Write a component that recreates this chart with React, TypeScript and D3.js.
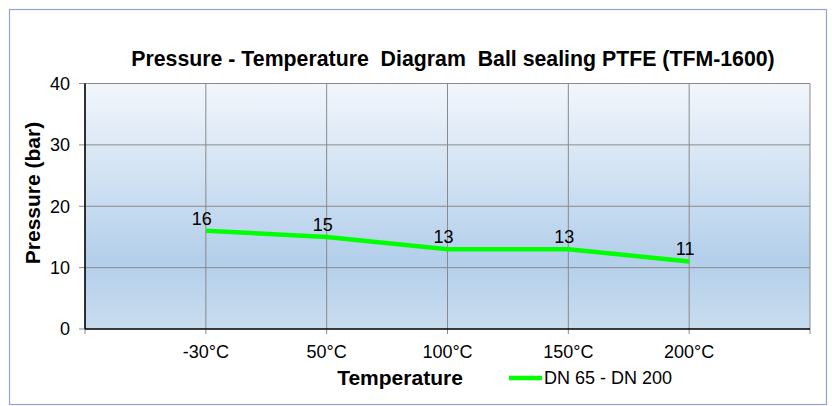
import React, { useRef, useEffect } from 'react';
import * as d3 from 'd3';

const temperatures: string[] = ['-30°C', '50°C', '100°C', '150°C', '200°C'];
const pressures: number[] = [16, 15, 13, 13, 11];
const yTicks: number[] = [0, 10, 20, 30, 40];
const seriesName = 'DN 65 - DN 200';

const App: React.FC = () => {
  const svgRef = useRef<SVGSVGElement | null>(null);

  useEffect(() => {
    document.body.style.margin = '0';
    if (!svgRef.current) return;

    const width = 832;
    const height = 406;
    const margin = { top: 83.5, right: 22, bottom: 77, left: 85 };
    const font = '"Liberation Sans", Arial, sans-serif';

    const svg = d3.select(svgRef.current)
      .attr('width', width)
      .attr('height', height);
    svg.selectAll('*').remove();

    // 바깥 테두리
    svg.append('rect')
      .attr('x', 9.5).attr('y', 9.5)
      .attr('width', 817).attr('height', 395)
      .attr('fill', '#fff')
      .attr('stroke', '#95a3cf')
      .attr('stroke-width', 1.2);

    const x = d3.scalePoint<string>()
      .domain(temperatures)
      .range([margin.left, width - margin.right])
      .padding(1);

    const y = d3.scaleLinear()
      .domain([0, 40])
      .range([height - margin.bottom, margin.top]);

    // 배경 그라데이션
    const defs = svg.append('defs');
    const grad = defs.append('linearGradient')
      .attr('id', 'plotBg')
      .attr('x1', 0).attr('y1', 0).attr('x2', 0).attr('y2', 1);
    grad.append('stop').attr('offset', '0%').attr('stop-color', '#f2f6fc');
    grad.append('stop').attr('offset', '72%').attr('stop-color', '#b3cfea');
    grad.append('stop').attr('offset', '100%').attr('stop-color', '#c9dcef');

    const x0 = margin.left;
    const x1 = width - margin.right;
    const y0 = y(0);
    const y1 = y(40);

    svg.append('rect')
      .attr('x', x0).attr('y', y1)
      .attr('width', x1 - x0).attr('height', y0 - y1)
      .attr('fill', 'url(#plotBg)');

    // 세로 격자선 (아래로 눈금까지)
    const vLines = [x0, ...temperatures.map(t => x(t) as number), x1];
    svg.append('g')
      .selectAll('line')
      .data(vLines)
      .join('line')
      .attr('x1', d => d).attr('x2', d => d)
      .attr('y1', y1).attr('y2', y0 + 5)
      .attr('stroke', '#8a8a8a')
      .attr('stroke-width', 1);

    // 가로 격자선
    svg.append('g')
      .selectAll('line')
      .data(yTicks.filter(t => t > 0))
      .join('line')
      .attr('x1', x0 - 6).attr('x2', x1)
      .attr('y1', d => y(d)).attr('y2', d => y(d))
      .attr('stroke', '#8a8a8a')
      .attr('stroke-width', 1);

    svg.append('line')
      .attr('x1', x0 - 6).attr('x2', x0)
      .attr('y1', y0).attr('y2', y0)
      .attr('stroke', '#8a8a8a');

    // 축선
    svg.append('line')
      .attr('x1', x0).attr('x2', x0)
      .attr('y1', y1).attr('y2', y0)
      .attr('stroke', '#000').attr('stroke-width', 1.5);
    svg.append('line')
      .attr('x1', x0).attr('x2', x1)
      .attr('y1', y0).attr('y2', y0)
      .attr('stroke', '#000').attr('stroke-width', 1.5);

    // y 눈금 라벨
    svg.append('g')
      .selectAll('text')
      .data(yTicks)
      .join('text')
      .attr('x', 70)
      .attr('y', d => y(d))
      .attr('dy', '0.35em')
      .attr('text-anchor', 'end')
      .attr('font-family', font)
      .attr('font-size', 18)
      .text(d => String(d));

    // x 눈금 라벨
    svg.append('g')
      .selectAll('text')
      .data(temperatures)
      .join('text')
      .attr('x', d => x(d) as number)
      .attr('y', 358)
      .attr('text-anchor', 'middle')
      .attr('font-family', font)
      .attr('font-size', 18)
      .text(d => d);

    // 데이터 선
    const line = d3.line<number>()
      .x((_, i) => x(temperatures[i]) as number)
      .y(d => y(d));

    svg.append('path')
      .datum(pressures)
      .attr('fill', 'none')
      .attr('stroke', '#00ff00')
      .attr('stroke-width', 4.5)
      .attr('d', line);

    // 데이터 라벨
    svg.append('g')
      .selectAll('text')
      .data(pressures)
      .join('text')
      .attr('x', (_, i) => (x(temperatures[i]) as number) - 4)
      .attr('y', d => y(d) - 6)
      .attr('text-anchor', 'middle')
      .attr('font-family', font)
      .attr('font-size', 18)
      .text(d => String(d));

    // 제목
    svg.append('text')
      .attr('x', 453).attr('y', 66)
      .attr('text-anchor', 'middle')
      .attr('font-family', font)
      .attr('font-weight', 'bold')
      .attr('font-size', 21.3)
      .attr('xml:space', 'preserve')
      .style('white-space', 'pre')
      .text('Pressure - Temperature  Diagram  Ball sealing PTFE (TFM-1600)');

    svg.append('text')
      .attr('transform', 'translate(40,193) rotate(-90)')
      .attr('text-anchor', 'middle')
      .attr('font-family', font)
      .attr('font-weight', 'bold')
      .attr('font-size', 21)
      .text('Pressure (bar)');

    svg.append('text')
      .attr('x', 400).attr('y', 385)
      .attr('text-anchor', 'middle')
      .attr('font-family', font)
      .attr('font-weight', 'bold')
      .attr('font-size', 21)
      .text('Temperature');

    // 범례
    svg.append('line')
      .attr('x1', 509).attr('x2', 542)
      .attr('y1', 378).attr('y2', 378)
      .attr('stroke', '#00ff00')
      .attr('stroke-width', 4.5);
    svg.append('text')
      .attr('x', 544).attr('y', 384)
      .attr('font-family', font)
      .attr('font-size', 18)
      .text(seriesName);
  }, []);

  return <svg ref={svgRef} style={{ display: 'block' }}></svg>;
};

export default App;
